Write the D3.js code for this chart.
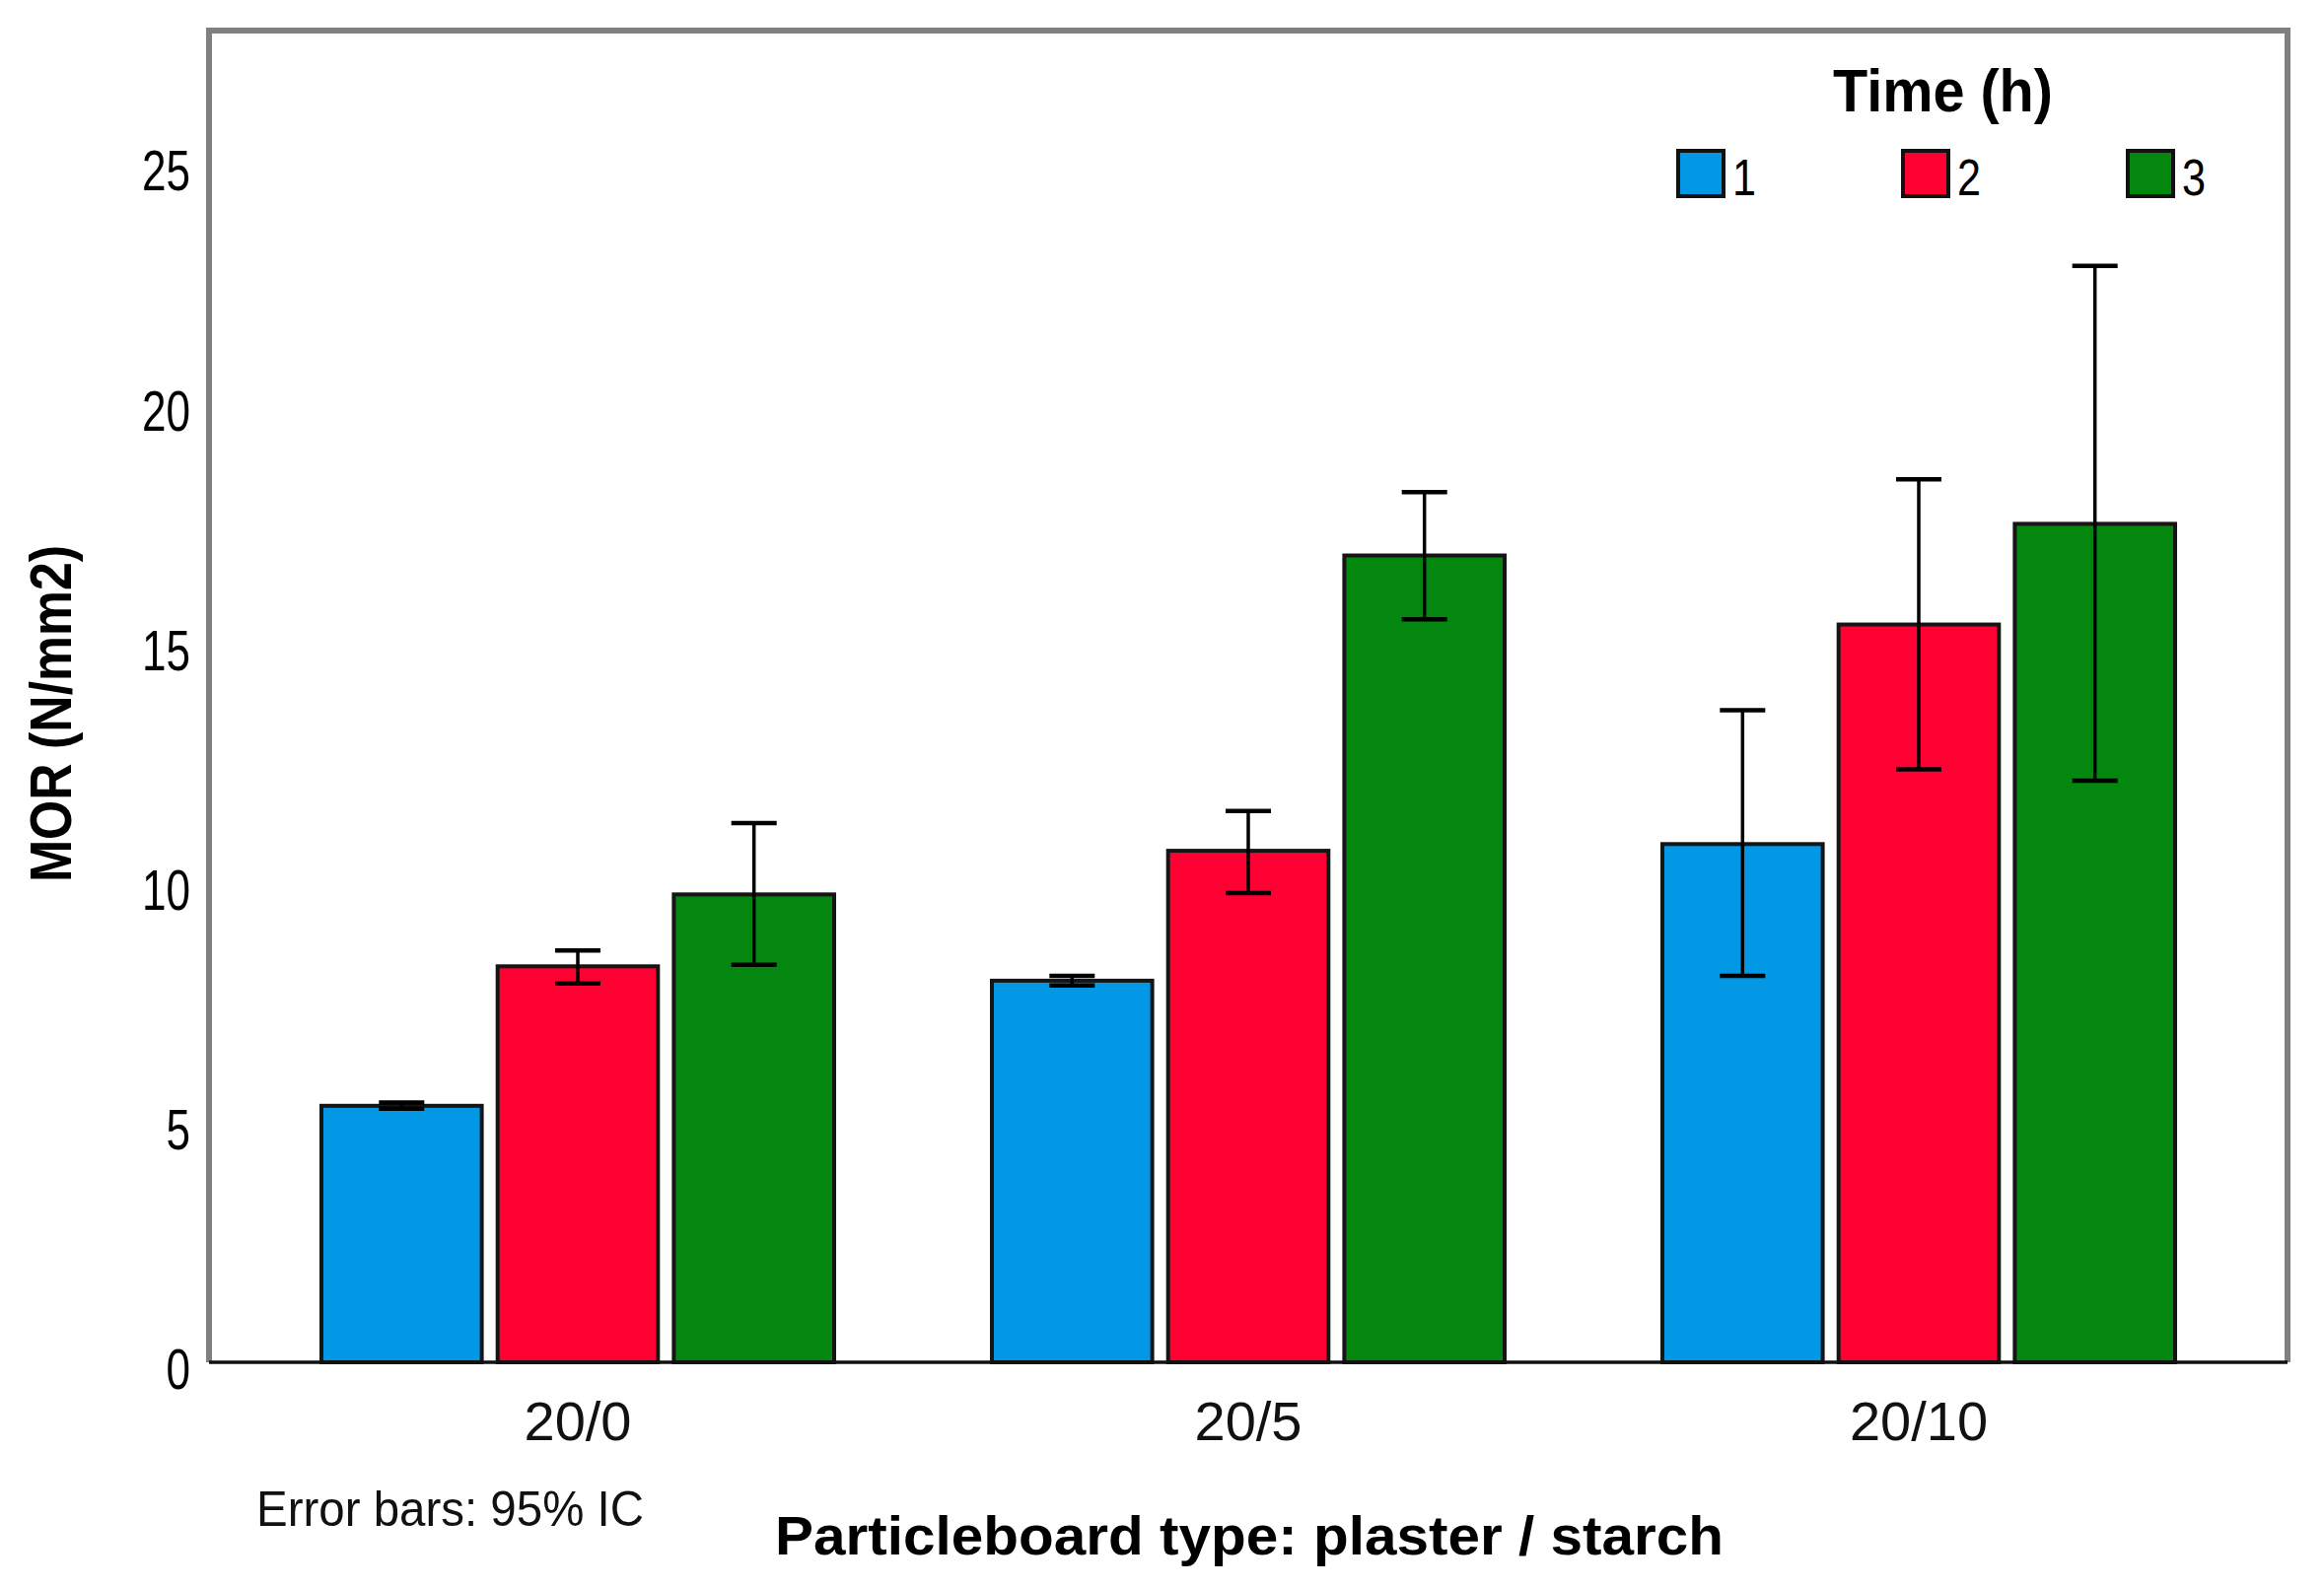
<!DOCTYPE html>
<html>
<head>
<meta charset="utf-8">
<script src="https://cdn.jsdelivr.net/npm/d3@7"></script>
<style>
  body { margin: 0; background: #fff; }
  svg { display: block; }
</style>
</head>
<body>
<svg id="chart"></svg>
<script>
// particleboard types on the x axis
const categories = ["20/0", "20/5", "20/10"];
// time (h) series
const times = ["1", "2", "3"];
const colors = ["#0398e6", "#ff0033", "#03870f"];
// mean MOR (N/mm2), one array per time, in category order
const mean1 = [5.35, 7.96, 10.81];
const mean2 = [8.26, 10.67, 15.39];
const mean3 = [9.76, 16.83, 17.49];
// 95% IC
const low1 = [5.29, 7.86, 8.06];
const low2 = [7.90, 9.79, 12.37];
const low3 = [8.29, 15.50, 12.13];
const high1 = [5.42, 8.06, 13.60];
const high2 = [8.59, 11.50, 18.42];
const high3 = [11.25, 18.15, 22.87];
const yTicks = [0, 5, 10, 15, 20, 25];

const means = [mean1, mean2, mean3];
const lows = [low1, low2, low3];
const highs = [high1, high2, high3];

const rows = [];
categories.forEach((c, ci) => {
  times.forEach((t, ti) => {
    rows.push({cat: c, time: t, ti: ti, mean: means[ti][ci], lo: lows[ti][ci], hi: highs[ti][ci]});
  });
});

const W = 2357, H = 1611;
const plotL = 212, plotR = 2320, plotT = 31, plotB = 1382;

const svg = d3.select("#chart").attr("width", W).attr("height", H);

const y = d3.scaleLinear().domain([0, 27.78]).range([plotB, plotT]);
const x = d3.scaleBand().domain(categories).range([plotL, plotR]).paddingOuter(0.05).paddingInner(0);
const xi = d3.scaleBand().domain(times).range([80, 600]).paddingInner(0.09).paddingOuter(0);

// y axis labels (no ticks)
const yAxis = svg.append("g")
  .attr("transform", "translate(" + plotL + ",0)")
  .call(d3.axisLeft(y).tickValues(yTicks).tickSize(0).tickPadding(19));
yAxis.select(".domain").remove();
yAxis.selectAll("text")
  .attr("dy", "0.46em")
  .style("font", "58px 'Liberation Sans Narrow', 'Arial Narrow', 'Liberation Sans', sans-serif")
  .attr("fill", "#000")
  .attr("textLength", d => String(d).length * 24.5)
  .attr("lengthAdjust", "spacingAndGlyphs");

// x axis labels
const xAxis = svg.append("g")
  .attr("transform", "translate(0," + plotB + ")")
  .call(d3.axisBottom(x).tickSize(0).tickPadding(39));
xAxis.select(".domain").remove();
xAxis.selectAll("text")
  .style("font", "56px 'Liberation Sans', Arial, sans-serif")
  .attr("fill", "#111");

// bars
svg.selectAll("rect.bar")
  .data(rows)
  .enter()
  .append("rect")
  .attr("class", "bar")
  .attr("x", d => x(d.cat) + xi(d.time))
  .attr("y", d => y(d.mean))
  .attr("width", xi.bandwidth())
  .attr("height", d => y(0) - y(d.mean))
  .attr("fill", d => colors[d.ti])
  .attr("stroke", "#151515")
  .attr("stroke-width", 4);

// error bars
const cap = 23;
const eb = svg.append("g").attr("stroke", "#000").attr("stroke-width", 3.5);
rows.forEach(d => {
  const cx = x(d.cat) + xi(d.time) + xi.bandwidth() / 2;
  eb.append("line").attr("x1", cx).attr("x2", cx).attr("y1", y(d.hi)).attr("y2", y(d.lo));
  eb.append("line").attr("x1", cx - cap).attr("x2", cx + cap).attr("y1", y(d.hi)).attr("y2", y(d.hi)).attr("stroke-width", 4.5);
  eb.append("line").attr("x1", cx - cap).attr("x2", cx + cap).attr("y1", y(d.lo)).attr("y2", y(d.lo)).attr("stroke-width", 4.5);
});

// frame
svg.append("path")
  .attr("d", "M" + plotL + "," + plotB + "V" + plotT + "H" + plotR + "V" + plotB)
  .attr("fill", "none")
  .attr("stroke", "#808080")
  .attr("stroke-width", 6);
svg.append("line")
  .attr("x1", plotL).attr("x2", plotR)
  .attr("y1", plotB).attr("y2", plotB)
  .attr("stroke", "#111")
  .attr("stroke-width", 3.5);

// legend
svg.append("text")
  .attr("x", 1859).attr("y", 113)
  .attr("textLength", 223).attr("lengthAdjust", "spacingAndGlyphs")
  .style("font", "bold 61px 'Liberation Sans', Arial, sans-serif")
  .text("Time (h)");
const lg = svg.selectAll("g.leg")
  .data(times)
  .enter()
  .append("g")
  .attr("class", "leg")
  .attr("transform", (d, i) => "translate(" + (1700 + i * 228) + ",151)");
lg.append("rect")
  .attr("x", 2).attr("y", 2)
  .attr("width", 46).attr("height", 46)
  .attr("fill", (d, i) => colors[i])
  .attr("stroke", "#111")
  .attr("stroke-width", 4);
lg.append("text")
  .attr("x", 57).attr("y", 47)
  .attr("textLength", 24).attr("lengthAdjust", "spacingAndGlyphs")
  .style("font", "52px 'Liberation Sans Narrow', 'Arial Narrow', 'Liberation Sans', sans-serif")
  .text(d => d);

// titles
svg.append("text")
  .attr("transform", "translate(72,724)rotate(-90)")
  .attr("text-anchor", "middle")
  .attr("textLength", 342).attr("lengthAdjust", "spacingAndGlyphs")
  .style("font", "bold 59px 'Liberation Sans', Arial, sans-serif")
  .text("MOR (N/mm2)");
svg.append("text")
  .attr("x", 786).attr("y", 1577)
  .attr("textLength", 962).attr("lengthAdjust", "spacingAndGlyphs")
  .style("font", "bold 56px 'Liberation Sans', Arial, sans-serif")
  .text("Particleboard type: plaster / starch");
svg.append("text")
  .attr("x", 260).attr("y", 1548)
  .attr("textLength", 393).attr("lengthAdjust", "spacingAndGlyphs")
  .style("font", "50px 'Liberation Sans', Arial, sans-serif")
  .attr("fill", "#111")
  .text("Error bars: 95% IC");
</script>
</body>
</html>
